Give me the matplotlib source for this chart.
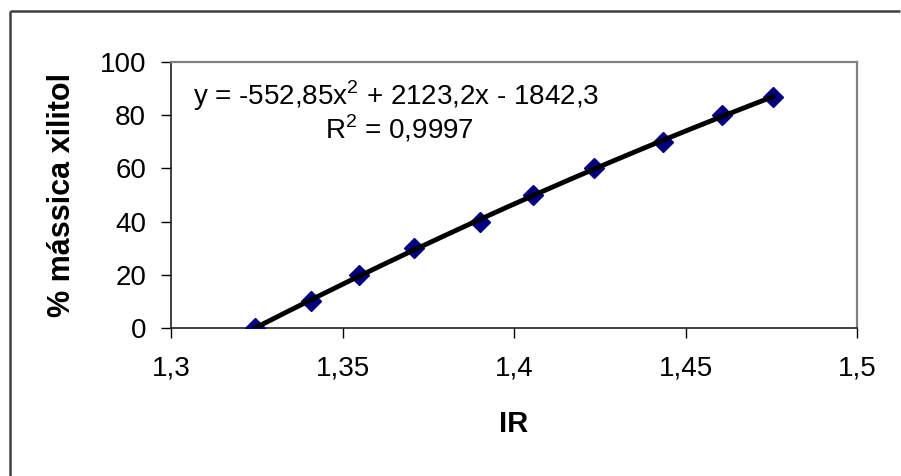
import numpy as np
import matplotlib
matplotlib.use("Agg")
import matplotlib.pyplot as plt
from matplotlib.lines import Line2D

plt.rcParams['font.family'] = ['Liberation Sans', 'DejaVu Sans']
plt.rcParams['mathtext.fontset'] = 'custom'
plt.rcParams['mathtext.rm'] = 'Liberation Sans'

# data
ir = [1.3245, 1.3408, 1.3548, 1.3707, 1.3901, 1.4056, 1.4234, 1.4435, 1.4607, 1.4756]
xilitol = [0, 10, 20, 30, 40, 50, 60, 70, 80, 87]
x_ticks = [1.3, 1.35, 1.4, 1.45, 1.5]
x_ticklabels = ['1,3', '1,35', '1,4', '1,45', '1,5']
y_ticks = [0, 20, 40, 60, 80, 100]
eq_text = 'y = -552,85x$^2$ + 2123,2x - 1842,3'
r2_text = 'R$^2$ = 0,9997'

fig = plt.figure(figsize=(9.01, 4.76), dpi=100)
fig.patch.set_edgecolor('white')
fig.patch.set_linewidth(0)
ax = fig.add_axes([0.1898, 0.3109, 0.7614, 0.5588])

# quadratic trendline from the points
coef = np.polyfit(ir, xilitol, 2)
xs = np.linspace(min(ir), max(ir), 200)
ax.plot(ir, xilitol, linestyle='none', marker='D', ms=10, color='#000080',
        markeredgecolor='#000080', zorder=3)
ax.plot(xs, np.polyval(coef, xs), color='black', lw=3.5, zorder=4)

ax.set_xlim(1.3, 1.5)
ax.set_ylim(0, 100)
ax.set_xticks(x_ticks)
ax.set_xticklabels(x_ticklabels)
ax.set_yticks(y_ticks)
ax.tick_params(direction='out', length=7, width=1, labelsize=20, color='black')
ax.tick_params(axis='x', pad=13)
ax.tick_params(axis='y', pad=11)

for s in ['top', 'right']:
    ax.spines[s].set_color('#808080')
    ax.spines[s].set_linewidth(1.6)
for s in ['left', 'bottom']:
    ax.spines[s].set_color('#202020')
    ax.spines[s].set_linewidth(1.2)

ax.set_xlabel('IR', fontsize=21, fontweight='bold', labelpad=20)
ax.set_ylabel('% mássica xilitol', fontsize=22, fontweight='bold', labelpad=16)

ax.text(1.3655, 87.2, eq_text, fontsize=20, ha='center', va='center')
ax.text(1.3665, 75.0, r2_text, fontsize=20, ha='center', va='center')

# outer chart border (only top and left visible)
top = 1 - 11 / 476
left = 10 / 901
fig.add_artist(Line2D([left, 0.999], [top, top], color='#404040', lw=1.8,
                      solid_capstyle='butt', transform=fig.transFigure))
fig.add_artist(Line2D([left, left], [-0.01, top], color='#404040', lw=1.8,
                      solid_capstyle='butt', transform=fig.transFigure))

fig.savefig('out.png', dpi=100)
